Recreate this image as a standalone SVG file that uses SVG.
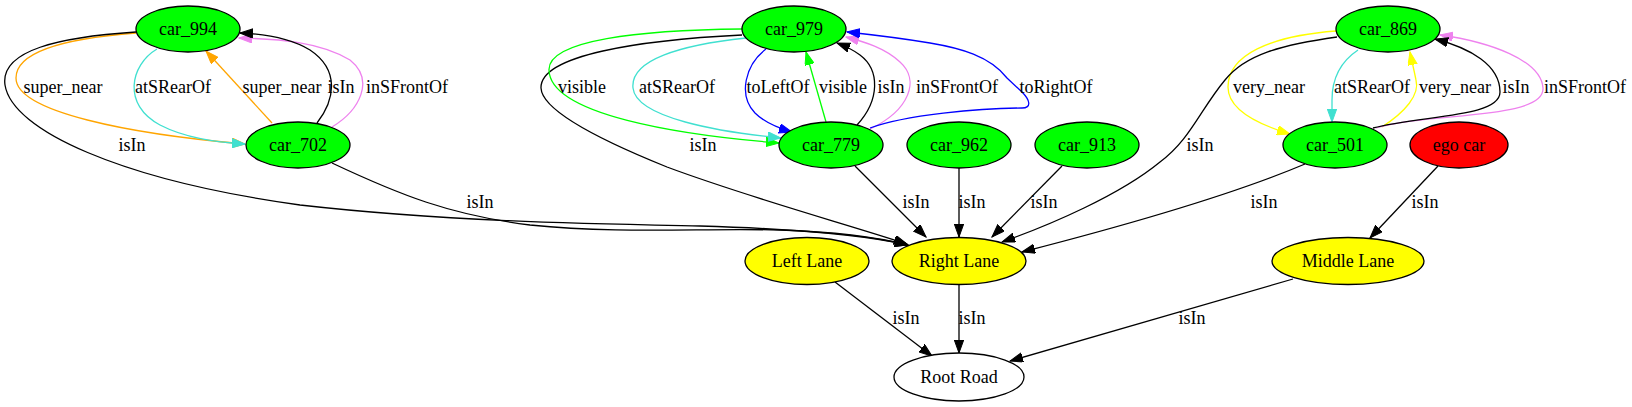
<svg xmlns="http://www.w3.org/2000/svg" width="1632" height="407" viewBox="0 0 1632 407">
<style>
text{font-family:"Liberation Serif","Times New Roman",serif;font-size:18px;text-anchor:middle;fill:#000}
.n ellipse{stroke:#000;stroke-width:1.3}
.e path{fill:none;stroke-width:1.3}
.k{stroke:#000}.o{stroke:#ffa500}.t{stroke:#40e0d0}.v{stroke:#ee82ee}.b{stroke:#0000ff}.g{stroke:#00ff00}.y{stroke:#ffff00}
</style>
<defs>
<marker id="ak" markerWidth="14" markerHeight="10" refX="13" refY="4.7" orient="auto" markerUnits="userSpaceOnUse"><path d="M0,0 L13,4.7 L0,9.4 z" fill="#000" stroke="#000" stroke-width="1"/></marker>
<marker id="ao" markerWidth="14" markerHeight="10" refX="13" refY="4.7" orient="auto" markerUnits="userSpaceOnUse"><path d="M0,0 L13,4.7 L0,9.4 z" fill="#ffa500" stroke="#ffa500" stroke-width="1"/></marker>
<marker id="at" markerWidth="14" markerHeight="10" refX="13" refY="4.7" orient="auto" markerUnits="userSpaceOnUse"><path d="M0,0 L13,4.7 L0,9.4 z" fill="#40e0d0" stroke="#40e0d0" stroke-width="1"/></marker>
<marker id="av" markerWidth="14" markerHeight="10" refX="13" refY="4.7" orient="auto" markerUnits="userSpaceOnUse"><path d="M0,0 L13,4.7 L0,9.4 z" fill="#ee82ee" stroke="#ee82ee" stroke-width="1"/></marker>
<marker id="ab" markerWidth="14" markerHeight="10" refX="13" refY="4.7" orient="auto" markerUnits="userSpaceOnUse"><path d="M0,0 L13,4.7 L0,9.4 z" fill="#0000ff" stroke="#0000ff" stroke-width="1"/></marker>
<marker id="ag" markerWidth="14" markerHeight="10" refX="13" refY="4.7" orient="auto" markerUnits="userSpaceOnUse"><path d="M0,0 L13,4.7 L0,9.4 z" fill="#00ff00" stroke="#00ff00" stroke-width="1"/></marker>
<marker id="ay" markerWidth="14" markerHeight="10" refX="13" refY="4.7" orient="auto" markerUnits="userSpaceOnUse"><path d="M0,0 L13,4.7 L0,9.4 z" fill="#ffff00" stroke="#ffff00" stroke-width="1"/></marker>
</defs>
<rect width="1632" height="407" fill="#fff"/>
<g id="connectors" class="e">
<path class="o" marker-end="url(#ao)" d="M136,33 C70,38 16,50 16,78 C16,112 130,134 245,144"/>
<path class="t" marker-end="url(#at)" d="M157,49 C130,65 122,105 160,125 C185,138 215,142 245,144"/>
<path class="o" marker-end="url(#ao)" d="M272,123 L206,51"/>
<path class="v" marker-end="url(#av)" d="M332,127 C360,110 375,80 350,60 C320,42 280,39 239,38"/>
<path class="k" marker-end="url(#ak)" d="M317,123 C335,100 340,70 310,50 C290,38 265,34 240,33"/>
<path class="k" marker-end="url(#ak)" d="M136,32 C60,37 0,50 5,85 C12,130 120,180 300,205 C450,222 600,224 700,226 C800,229 870,236 908,245"/>
<path class="k" marker-end="url(#ak)" d="M332,163 C400,195 450,215 530,225 C620,234 700,228 780,230 C840,232 880,238 908,245"/>
<path class="k" marker-end="url(#ak)" d="M742,35 C640,40 540,55 541,88 C542,110 600,140 667,167 C750,198 850,225 907,244"/>
<path class="g" marker-end="url(#ag)" d="M742,29 C640,30 548,40 549,70 C550,115 680,135 779,143"/>
<path class="t" marker-end="url(#at)" d="M746,38 C680,45 630,60 633,88 C636,118 720,132 781,138"/>
<path class="b" marker-end="url(#ab)" d="M766,49 C745,65 738,95 755,113 C765,123 778,128 792,132"/>
<path class="g" marker-end="url(#ag)" d="M826,122 L806,52"/>
<path class="k" marker-end="url(#ak)" d="M857,125 C880,100 880,70 860,55 C852,49 845,46 837,43"/>
<path class="v" marker-end="url(#av)" d="M870,129 C910,110 920,80 900,62 C885,48 865,42 846,37"/>
<path class="b" marker-end="url(#ab)" d="M870,128 C905,115 980,108 1022,108 C1032,108 1030,100 1022,92 L1007,78 C990,56 960,48 930,43 C900,38 875,35 847,32"/>
<path class="y" marker-end="url(#ay)" d="M1336,31 C1270,36 1228,55 1228,87 C1228,110 1260,125 1290,134"/>
<path class="t" marker-end="url(#at)" d="M1358,50 C1340,62 1332,80 1332,100 L1332,122"/>
<path class="y" marker-end="url(#ay)" d="M1382,127 C1405,112 1420,95 1416,80 C1414,70 1412,62 1410,52"/>
<path class="v" marker-end="url(#av)" d="M1376,128 C1430,112 1545,120 1543,88 C1541,60 1490,42 1440,35"/>
<path class="k" marker-end="url(#ak)" d="M1373,128 C1420,115 1500,118 1500,92 C1500,65 1470,48 1435,39"/>
<path class="k" marker-end="url(#ak)" d="M1337,37 C1280,45 1245,55 1225,80 C1200,110 1190,140 1160,162 C1120,195 1050,225 1002,242"/>
<path class="k" marker-end="url(#ak)" d="M1305,164 C1220,200 1100,232 1022,252"/>
<path class="k" marker-end="url(#ak)" d="M1438,166 L1370,238"/>
<path class="k" marker-end="url(#ak)" d="M855,166 L926,237"/>
<path class="k" marker-end="url(#ak)" d="M959,168 L959,237"/>
<path class="k" marker-end="url(#ak)" d="M1062,166 L992,237"/>
<path class="k" marker-end="url(#ak)" d="M835,282 L932,356"/>
<path class="k" marker-end="url(#ak)" d="M959,285 L959,353"/>
<path class="k" marker-end="url(#ak)" d="M1293,279 L1010,361"/>
<text x="63" y="93">super_near</text>
<text x="173" y="93">atSRearOf</text>
<text x="282" y="93">super_near</text>
<text x="341" y="93">isIn</text>
<text x="407" y="93">inSFrontOf</text>
<text x="582" y="93">visible</text>
<text x="677" y="93">atSRearOf</text>
<text x="778" y="93">toLeftOf</text>
<text x="843" y="93">visible</text>
<text x="891" y="93">isIn</text>
<text x="957" y="93">inSFrontOf</text>
<text x="1056" y="93">toRightOf</text>
<text x="1269" y="93">very_near</text>
<text x="1372" y="93">atSRearOf</text>
<text x="1455" y="93">very_near</text>
<text x="1516" y="93">isIn</text>
<text x="1585" y="93">inSFrontOf</text>
<text x="132" y="151">isIn</text>
<text x="703" y="151">isIn</text>
<text x="1200" y="151">isIn</text>
<text x="480" y="208">isIn</text>
<text x="916" y="208">isIn</text>
<text x="972" y="208">isIn</text>
<text x="1044" y="208">isIn</text>
<text x="1264" y="208">isIn</text>
<text x="1425" y="208">isIn</text>
<text x="906" y="324">isIn</text>
<text x="972" y="324">isIn</text>
<text x="1192" y="324">isIn</text>
</g>
<g id="car_994" class="n"><ellipse cx="188" cy="29" rx="52" ry="23" fill="#00ff00"/><text x="188" y="35">car_994</text></g>
<g id="car_702" class="n"><ellipse cx="298" cy="145" rx="52" ry="23" fill="#00ff00"/><text x="298" y="151">car_702</text></g>
<g id="car_979" class="n"><ellipse cx="794" cy="29" rx="52" ry="23" fill="#00ff00"/><text x="794" y="35">car_979</text></g>
<g id="car_779" class="n"><ellipse cx="831" cy="145" rx="52" ry="23" fill="#00ff00"/><text x="831" y="151">car_779</text></g>
<g id="car_962" class="n"><ellipse cx="959" cy="145" rx="52" ry="23" fill="#00ff00"/><text x="959" y="151">car_962</text></g>
<g id="car_913" class="n"><ellipse cx="1087" cy="145" rx="52" ry="23" fill="#00ff00"/><text x="1087" y="151">car_913</text></g>
<g id="car_869" class="n"><ellipse cx="1388" cy="29" rx="52" ry="23" fill="#00ff00"/><text x="1388" y="35">car_869</text></g>
<g id="car_501" class="n"><ellipse cx="1335" cy="145" rx="52" ry="23" fill="#00ff00"/><text x="1335" y="151">car_501</text></g>
<g id="ego_car" class="n"><ellipse cx="1459" cy="145" rx="49" ry="23" fill="#ff0000"/><text x="1459" y="151">ego car</text></g>
<g id="left_lane" class="n"><ellipse cx="807" cy="261" rx="62" ry="23.5" fill="#ffff00"/><text x="807" y="267">Left Lane</text></g>
<g id="right_lane" class="n"><ellipse cx="959" cy="261" rx="67" ry="23.5" fill="#ffff00"/><text x="959" y="267">Right Lane</text></g>
<g id="middle_lane" class="n"><ellipse cx="1348" cy="261" rx="76" ry="23.5" fill="#ffff00"/><text x="1348" y="267">Middle Lane</text></g>
<g id="root_road" class="n"><ellipse cx="959" cy="377" rx="65" ry="24" fill="#ffffff"/><text x="959" y="383">Root Road</text></g>
</svg>
